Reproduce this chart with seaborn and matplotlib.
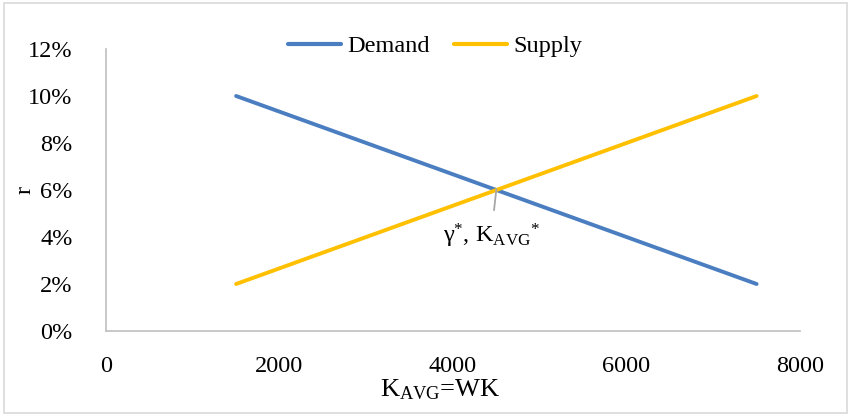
import numpy as np
import pandas as pd
import seaborn as sns
import matplotlib.pyplot as plt
from matplotlib.patches import Rectangle
from matplotlib.ticker import PercentFormatter

# values
k_avg = [1500, 3000, 4500, 6000, 7500]
demand = [0.10, 0.08, 0.06, 0.04, 0.02]
supply = [0.02, 0.04, 0.06, 0.08, 0.10]
series_names = ["Demand", "Supply"]
series_colors = ["#4A7EC0", "#FFC000"]
x_ticks = [0, 2000, 4000, 6000, 8000]
y_ticks = [0, 0.02, 0.04, 0.06, 0.08, 0.10, 0.12]
eq_point = (4500, 0.06)

df = pd.concat([
    pd.DataFrame({"K": k_avg, "r": demand, "series": series_names[0]}),
    pd.DataFrame({"K": k_avg, "r": supply, "series": series_names[1]}),
])

sns.set_style("white")
plt.rcParams["font.family"] = ["Liberation Serif", "DejaVu Serif"]
plt.rcParams["mathtext.fontset"] = "custom"
plt.rcParams["mathtext.rm"] = "Liberation Serif"
plt.rcParams["mathtext.it"] = "Liberation Serif:italic"
plt.rcParams["text.color"] = "black"
plt.rcParams["axes.labelcolor"] = "black"

fs = 17.5
fig = plt.figure(figsize=(8.49, 4.15), dpi=100)
ax = fig.add_axes([106 / 849, 1 - 331 / 415, (800 - 106) / 849, (331 - 49) / 415])

sns.lineplot(data=df, x="K", y="r", hue="series", palette=series_colors,
             linewidth=2.8, ax=ax, legend=True)

ax.set_xlim(0, 8000)
ax.set_ylim(0, 0.12)
ax.set_xticks(x_ticks)
ax.set_yticks(y_ticks)
ax.yaxis.set_major_formatter(PercentFormatter(1.0, decimals=0))
ax.tick_params(axis="both", length=0, labelsize=fs, colors="black")
ax.tick_params(axis="y", pad=24)
ax.tick_params(axis="x", pad=18)

for side in ["top", "right"]:
    ax.spines[side].set_visible(False)
for side in ["left", "bottom"]:
    ax.spines[side].set_color("#BFBFBF")
    ax.spines[side].set_linewidth(1.2)

ax.set_xlabel(r"K$_{\mathrm{AVG}}$=WK", fontsize=19)
ax.xaxis.set_label_coords(0.481, -0.165)
ax.set_ylabel("r", fontsize=fs)
ax.yaxis.set_label_coords(-0.102, 0.5)

leg = ax.legend(loc="center", bbox_to_anchor=(0.474, 1.01), ncol=2,
                frameon=False, fontsize=fs, handlelength=2.2,
                columnspacing=1.0, handletextpad=0.25)
for line in leg.get_lines():
    line.set_linewidth(3)

ax.annotate(r"γ$^{*}$, K$_{\mathrm{AVG}}$$^{*}$", xy=(eq_point[0], eq_point[1] + 0.0004),
            xytext=(eq_point[0] - 60, 0.0405), fontsize=fs, ha="center", va="center",
            arrowprops=dict(arrowstyle="-", color="#A6A6A6", lw=1.3, shrinkA=6, shrinkB=0))

fig.patches.append(Rectangle((4 / 849, 2 / 415), 843 / 849, 410 / 415,
                             transform=fig.transFigure, fill=False,
                             edgecolor="#D9D9D9", linewidth=1.2))

fig.savefig("out.png", dpi=100)
